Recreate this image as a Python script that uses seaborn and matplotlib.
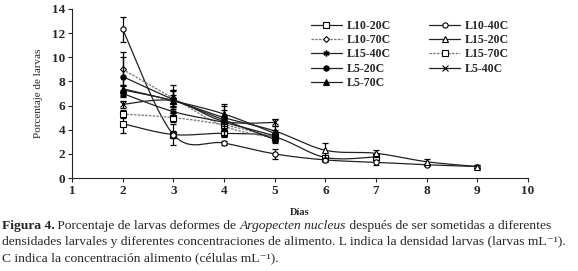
import numpy as np
import pandas as pd
import matplotlib
matplotlib.use('Agg')
import matplotlib.pyplot as plt
from matplotlib.lines import Line2D
import seaborn as sns

# Data (dias vs % larvas deformes)
series = ['L10-20C', 'L10-40C', 'L10-70C', 'L15-20C', 'L15-40C',
          'L15-70C', 'L5-20C', 'L5-40C', 'L5-70C']
days = {
    'L10-20C': [2, 3, 4, 5, 6, 7],
    'L10-40C': [2, 3, 4, 5, 6, 7, 8, 9],
    'L10-70C': [2, 3, 4, 5],
    'L15-20C': [2, 3, 4, 5, 6, 7, 8, 9],
    'L15-40C': [2, 3, 4, 5],
    'L15-70C': [2, 3, 4, 5],
    'L5-20C': [2, 3, 4, 5],
    'L5-40C': [2, 3, 4, 5],
    'L5-70C': [2, 3, 4, 5],
}
values = {
    'L10-20C': [4.5, 3.6, 3.7, 3.4, 1.7, 1.75],
    'L10-40C': [12.3, 3.6, 2.9, 2.0, 1.5, 1.3, 1.1, 0.95],
    'L10-70C': [9.0, 6.6, 4.3, 3.3],
    'L15-20C': [7.3, 6.4, 5.0, 3.9, 2.3, 2.05, 1.35, 0.95],
    'L15-40C': [7.0, 5.5, 4.6, 3.5],
    'L15-70C': [5.3, 5.0, 4.4, 3.4],
    'L5-20C': [8.4, 6.5, 4.8, 3.2],
    'L5-40C': [6.1, 6.4, 4.7, 4.6],
    'L5-70C': [7.4, 6.4, 5.3, 3.7],
}
errors = {
    'L10-20C': [0.8, 0.3, 0.3, 0.3, 0.2, 0.2],
    'L10-40C': [1.0, 0.9, 0.2, 0.4, 0.2, 0.2, 0.1, 0.1],
    'L10-70C': [1.4, 0.6, 0.4, 0.3],
    'L15-20C': [0.4, 0.9, 0.6, 0.4, 0.6, 0.3, 0.2, 0.1],
    'L15-40C': [0.3, 0.4, 0.4, 0.3],
    'L15-70C': [0.3, 0.4, 0.3, 0.3],
    'L5-20C': [1.6, 0.8, 1.2, 0.3],
    'L5-40C': [0.3, 0.5, 0.4, 0.3],
    'L5-70C': [0.3, 1.3, 0.8, 0.3],
}
markers = {'L10-20C': 's', 'L10-40C': 'o', 'L10-70C': 'D', 'L15-20C': '^',
           'L15-40C': '$\\ast$', 'L15-70C': 's', 'L5-20C': 'o', 'L5-40C': 'x',
           'L5-70C': '^'}
filled = {'L5-20C', 'L5-70C'}
dashed = {'L10-70C', 'L15-70C'}


def smooth(x, y, n=30):
    # Excel-like smoothed line (Catmull-Rom / Bezier)
    p = np.column_stack([x, y]).astype(float)
    if len(p) < 3:
        return p[:, 0], p[:, 1]
    ext = np.vstack([p[0], p, p[-1]])
    out = []
    t = np.linspace(0, 1, n)[:, None]
    for i in range(1, len(ext) - 2):
        p0, p1, p2, p3 = ext[i - 1], ext[i], ext[i + 1], ext[i + 2]
        c1 = p1 + (p2 - p0) / 6
        c2 = p2 - (p3 - p1) / 6
        seg = ((1 - t) ** 3) * p1 + 3 * ((1 - t) ** 2) * t * c1 + 3 * (1 - t) * t ** 2 * c2 + t ** 3 * p2
        out.append(seg if i == 1 else seg[1:])
    out = np.vstack(out)
    return out[:, 0], out[:, 1]


sns.set_style('ticks')
plt.rcParams['font.family'] = ['Liberation Serif', 'DejaVu Serif']

fig = plt.figure(figsize=(5.78, 2.71), dpi=100)
ax = fig.add_axes([0.1246, 0.343, 0.789, 0.624])

handles = {}
for s in series:
    xs, ys = smooth(days[s], values[s])
    df = pd.DataFrame({'x': xs, 'y': ys})
    col = '#777777' if s in dashed else '#222222'
    ls = (0, (2, 1)) if s in dashed else '-'
    sns.lineplot(data=df, x='x', y='y', ax=ax, color=col, lw=0.9,
                 linestyle=ls, sort=False, estimator=None)
    ax.errorbar(days[s], values[s], yerr=errors[s], fmt='none',
                ecolor='black', elinewidth=0.9, capsize=2.5, capthick=0.9)
    fc = 'black' if s in filled else 'white'
    ms = 3.8 if markers[s] != 'D' else 3
    ax.plot(days[s], values[s], linestyle='none', marker=markers[s],
            markersize=ms, markerfacecolor=fc, markeredgecolor='black',
            markeredgewidth=0.8)
    handles[s] = Line2D([], [], color=col, lw=0.9, linestyle=ls,
                        marker=markers[s], markersize=ms, markerfacecolor=fc,
                        markeredgecolor='black', markeredgewidth=0.8)

order = ['L10-20C', 'L10-70C', 'L15-40C', 'L5-20C', 'L5-70C',
         'L10-40C', 'L15-20C', 'L15-70C', 'L5-40C']
leg = ax.legend([handles[s] for s in order], order, ncol=2,
                loc='upper left', bbox_to_anchor=(0.5, 1.0), frameon=False,
                prop={'size': 8.6, 'weight': 'bold'}, handlelength=2.6,
                labelspacing=0.2, columnspacing=3.2, handletextpad=0.4)

ax.set_xlim(1, 10)
ax.set_ylim(0, 14)
ax.set_xticks(range(1, 11))
ax.set_yticks(range(0, 15, 2))
ax.tick_params(labelsize=9.5, length=3, width=0.8, direction='out', pad=2)
for t in ax.get_xticklabels() + ax.get_yticklabels():
    t.set_fontweight('bold')
ax.set_xlabel('Días', fontsize=7.5, fontweight='bold', labelpad=8)
ax.set_ylabel('Porcentaje de larvas', fontsize=8, labelpad=6)
sns.despine(ax=ax)
for sp in ax.spines.values():
    sp.set_linewidth(0.8)

# caption, drawn run by run
cap = 9.7
fig.canvas.draw()
renderer = fig.canvas.get_renderer()


def runs(y, parts):
    x = 0.003
    for txt, kw in parts:
        t = fig.text(x, y, txt, fontsize=cap, va='baseline', **kw)
        bb = t.get_window_extent(renderer)
        x = fig.transFigure.inverted().transform((bb.x1, bb.y0))[0]


runs(0.155, [('Figura 4.', {'fontweight': 'bold'}),
             (' Porcentaje de larvas deformes de ', {}),
             ('Argopecten nucleus', {'fontstyle': 'italic'}),
             (' después de ser sometidas a diferentes', {})])
runs(0.096, [('densidades larvales y diferentes concentraciones de alimento. '
              'L indica la densidad larvas (larvas mL⁻¹).', {})])
runs(0.037, [('C indica la concentración alimento (células mL⁻¹).', {})])

fig.savefig('out.png', dpi=100)
